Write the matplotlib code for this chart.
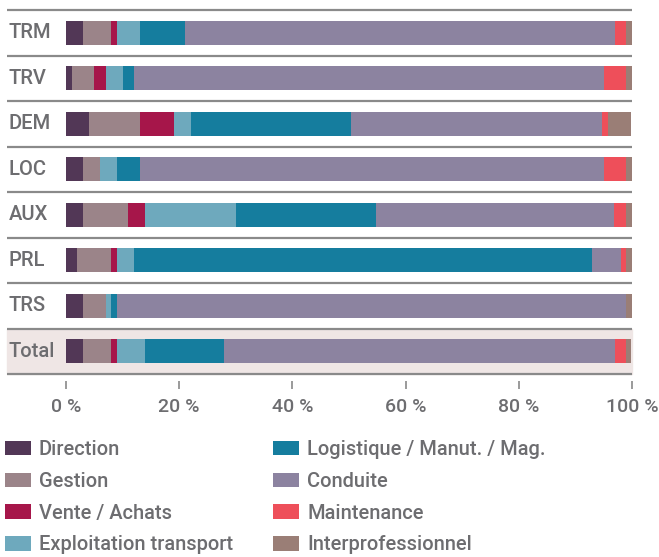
import numpy as np
import matplotlib.pyplot as plt
from matplotlib.patches import Patch

plt.rcParams['font.family'] = ['Roboto', 'DejaVu Sans']

# rows of the chart, top to bottom
rows = ['TRM', 'TRV', 'DEM', 'LOC', 'AUX', 'PRL', 'TRS', 'Total']
categories = ['Direction', 'Gestion', 'Vente / Achats', 'Exploitation transport',
              'Logistique / Manut. / Mag.', 'Conduite', 'Maintenance', 'Interprofessionnel']
colors = ['#523756', '#9b8489', '#a6164a', '#6ea9bd',
          '#157d9e', '#8c83a0', '#ee4f5a', '#9a7e76']

# shares in % per category (one list per category, in row order)
direction    = [3, 1, 4, 3, 3, 2, 3, 3]
gestion      = [5, 4, 9, 3, 8, 6, 4, 5]
vente        = [1, 2, 6, 0, 3, 1, 0, 1]
exploitation = [4, 3, 3, 3, 16, 3, 1, 5]
logistique   = [8, 2, 28.3, 4, 24.8, 81, 1, 14]
conduite     = [76, 83, 44.4, 82, 42.1, 5, 90, 69]
maintenance  = [2, 4, 1.1, 4, 2, 1, 0, 2]
interpro     = [1, 1, 4.1, 1, 1.1, 1, 1, 0.8]
series = [direction, gestion, vente, exploitation, logistique, conduite, maintenance, interpro]

txt = '#6d6d70'
W, H = 659, 557
fig = plt.figure(figsize=(W / 100, H / 100), dpi=100)
ax = fig.add_axes([66 / W, 1 - 374 / H, (632 - 66) / W, (374 - 10) / H])

y = np.arange(len(rows)) + 0.5
left = np.zeros(len(rows))
for vals, c in zip(series, colors):
    vals = np.array(vals, dtype=float)
    ax.barh(y, vals, left=left, height=0.53, color=c, zorder=3)
    left += vals

ax.set_xlim(0, 100)
ax.set_ylim(len(rows), 0)

# total row background and separators
xl = -10.4
ax.fill_between([xl, 100], 7, 8, color='#efe6e5', zorder=1, clip_on=False)
ax.hlines(np.arange(len(rows) + 1), xl, 100, color='#8a8a8a', lw=1.6, zorder=2, clip_on=False)

for yi, r in zip(y, rows):
    ax.text(xl + 0.3, yi, r, ha='left', va='center', fontsize=14.5,
            color=txt, fontweight='medium')

for s in ax.spines.values():
    s.set_visible(False)
ax.spines['bottom'].set_position(('outward', 5))
ax.set_yticks([])
ax.set_xticks([0, 20, 40, 60, 80, 100])
ax.set_xticklabels(['0 %', '20 %', '40 %', '60 %', '80 %', '100 %'], fontweight='medium')
ax.tick_params(axis='x', length=6, width=1.4, color='#9a9a9a', pad=6,
               labelsize=14, labelcolor=txt)

handles = [Patch(facecolor=c, edgecolor='none') for c in colors]
fig.legend(handles, categories, ncol=2, loc='upper left',
           bbox_to_anchor=(-3 / W, 1 - 432 / H), frameon=False,
           prop={'size': 14.4, 'weight': 'medium'}, labelcolor=txt,
           handlelength=1.3, handleheight=0.75, handletextpad=0.4,
           columnspacing=2.0, labelspacing=0.64, borderaxespad=0)

fig.savefig('out.png', dpi=100)
